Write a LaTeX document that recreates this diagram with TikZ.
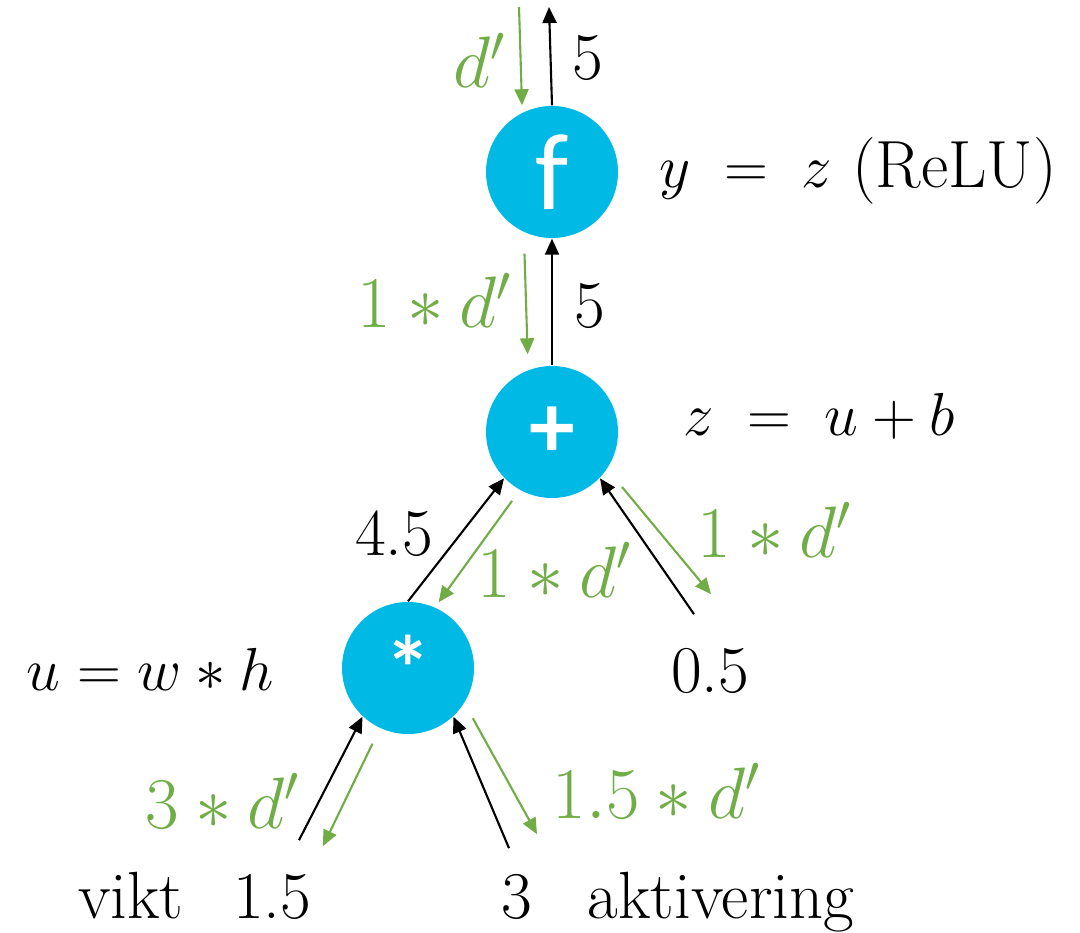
\documentclass[tikz,border=0pt]{standalone}
\usepackage{fontspec}
\newfontfamily\opfont{Carlito}
\usetikzlibrary{arrows.meta}
\definecolor{nodeblue}{HTML}{00B9E4}
\definecolor{gradgreen}{HTML}{70AD47}

\begin{document}
\begin{tikzpicture}[>={Triangle[length=1.6mm,width=1.4mm]},
  op/.style={circle,fill=nodeblue,minimum size=13.2mm,inner sep=0pt,text=white,font=\opfont\fontsize{26}{30}\selectfont},
  val/.style={anchor=base,inner sep=0pt,font=\fontsize{19}{23}\selectfont},
  grad/.style={val,text=gradgreen,font=\fontsize{20}{24}\selectfont},
  fwd/.style={->,line width=0.6pt},
  bwd/.style={->,line width=0.6pt,gradgreen}]
\useasboundingbox (0,0) rectangle (10.8,-9.33);
% operations
\node[op,font=\opfont\fontsize{31}{34}\selectfont] (f) at (5.52,-1.72) {f};
\node[op] (add) at (5.52,-4.32) {\bfseries +};
\node[op] (mul) at (4.08,-6.68) {\bfseries *};
% inputs
\node[val] (w) at (2.72,-9.18) {1.5};
\node[val] (h) at (5.17,-9.18) {3};
\node[val] (b) at (7.10,-6.92) {0.5};
\node[val] (wname) at (1.31,-9.18) {vikt};
\node[val] (hname) at (7.21,-9.18) {aktivering};
% formulas
\node[val] (ffun) at (8.58,-1.88) {$y\;=\;z$ (ReLU)};
\node[val] (addfun) at (8.19,-4.35) {$z\;=\;u+b$};
\node[val] (mulfun) at (1.50,-6.90) {$u=w\ast h$};
% forward values
\node[val] (vout) at (5.88,-0.80) {5};
\node[val] (vz) at (5.90,-3.28) {5};
\node[val] (vu) at (3.94,-5.55) {4.5};
% gradients
\node[grad] (gout) at (4.80,-0.88) {$d'$};
\node[grad] (gz) at (4.35,-3.28) {$1\ast d'$};
\node[grad] (gu) at (5.55,-5.97) {$1\ast d'$};
\node[grad] (gb) at (7.75,-5.57) {$1\ast d'$};
\node[grad] (gw) at (2.23,-8.28) {$3\ast d'$};
\node[grad] (gh) at (6.57,-8.18) {$1.5\ast d'$};
\coordinate (out) at (5.49,-0.07);
\coordinate (in) at (5.19,-0.07);
% forward pass
\draw[fwd] (f.north) -- (out);
\draw[fwd] (add.north) -- (f.south);
\draw[fwd] (mul.north) -- (add.224);
\draw[fwd] ([xshift=-1.6mm,yshift=3.3mm]b.north) -- (add.316);
\draw[fwd] ([xshift=2.7mm,yshift=3.3mm]w.north) -- (mul.227);
\draw[fwd] ([xshift=-0.8mm,yshift=2.5mm]h.north) -- (mul.313);
% backward pass
\draw[bwd] (in) -- ([xshift=-3mm]f.north);
\draw[bwd,shorten <=1.5mm,shorten >=1.1mm] ([xshift=-2.8mm]f.south) -- ([xshift=-2.4mm]add.north);
\draw[bwd,shorten <=1.3mm,shorten >=0.6mm] (add.241) -- (mul.66);
\draw[bwd,shorten <=2.3mm] (add.326) -- ([xshift=0.1mm,yshift=5.3mm]b.north);
\draw[bwd,shorten <=1.7mm] (mul.245) -- ([xshift=5.1mm,yshift=2.7mm]w.north);
\draw[bwd,shorten <=1.7mm] (mul.328) -- ([xshift=2mm,yshift=3.9mm]h.north);
\end{tikzpicture}
\end{document}
